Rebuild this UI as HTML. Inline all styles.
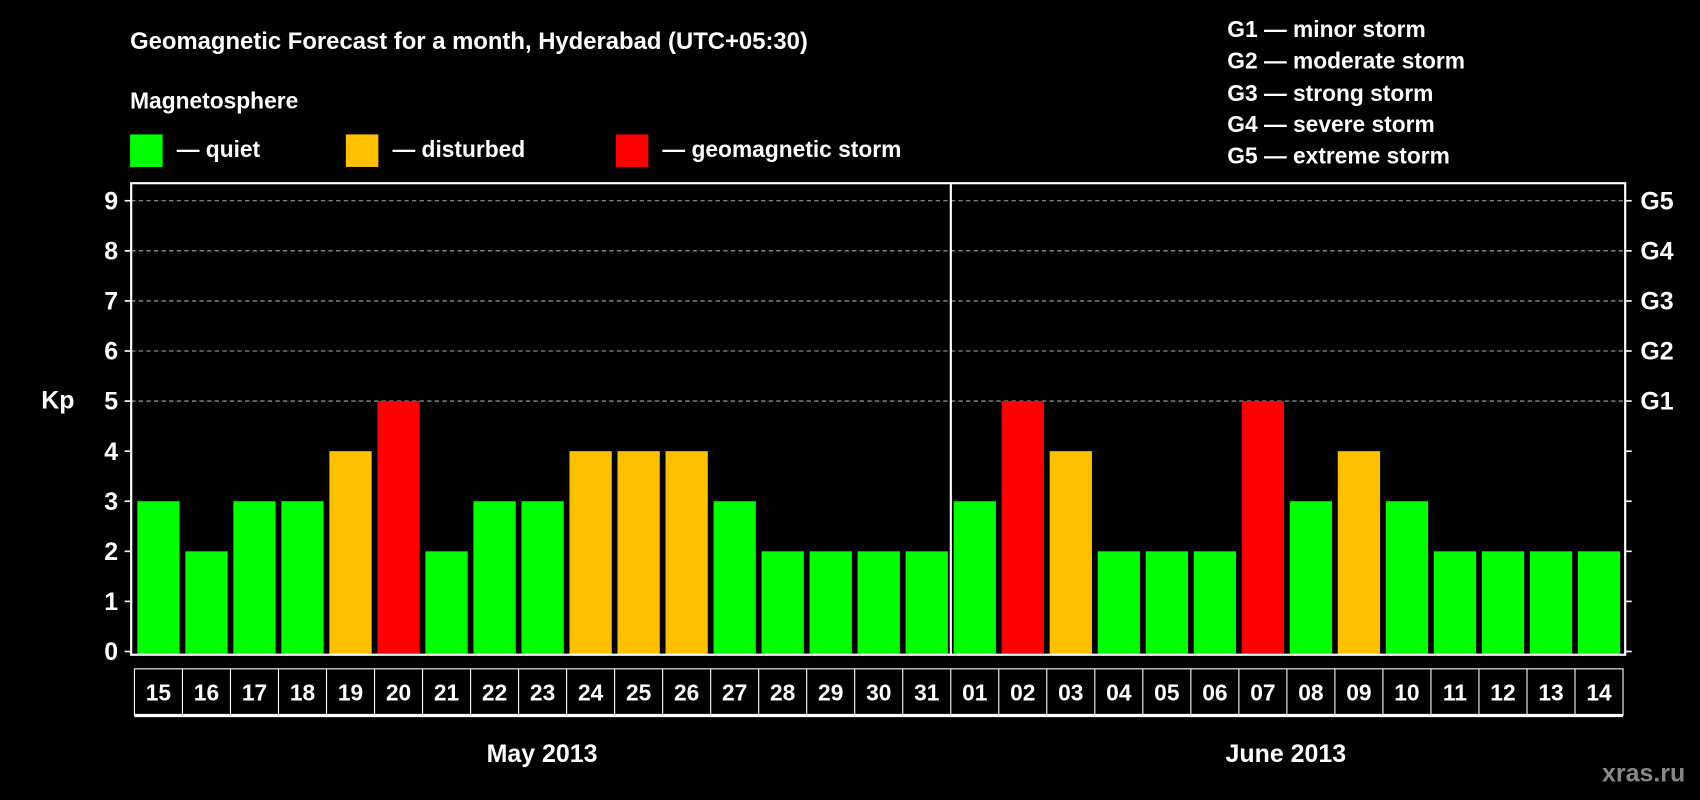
<!DOCTYPE html>
<html><head><meta charset="utf-8"><style>
html,body{margin:0;padding:0;background:#000;}
svg{display:block;font-family:"Liberation Sans",sans-serif;font-weight:bold;}
</style></head><body>
<svg id="chart" width="1700" height="800" viewBox="0 0 1568 738" preserveAspectRatio="none" xmlns="http://www.w3.org/2000/svg">
<rect width="1568" height="738" fill="#000"/>
<text x="120" y="45" fill="#fff" font-size="22">Geomagnetic Forecast for a month, Hyderabad (UTC+05:30)</text>
<text x="120" y="100" fill="#fff" font-size="21">Magnetosphere</text>
<g><rect x="120" y="124" width="30" height="30" fill="#00ff00"/><text x="163" y="145" fill="#fff" font-size="21">— quiet</text></g>
<g><rect x="319" y="124" width="30" height="30" fill="#ffc000"/><text x="362" y="145" fill="#fff" font-size="21">— disturbed</text></g>
<g><rect x="568" y="124" width="30" height="30" fill="#ff0000"/><text x="611" y="145" fill="#fff" font-size="21">— geomagnetic storm</text></g>
<g fill="#fff" font-size="21">
<text x="1132" y="34">G1 — minor storm</text>
<text x="1132" y="63">G2 — moderate storm</text>
<text x="1132" y="93">G3 — strong storm</text>
<text x="1132" y="122">G4 — severe storm</text>
<text x="1132" y="151">G5 — extreme storm</text>
</g>
<text x="38" y="377" fill="#fff" font-size="23">Kp</text>
<g id="grid"></g>
<g id="bars"></g>
<g id="frame"></g>
<g id="days"></g>
<text x="500" y="703" fill="#fff" font-size="23" text-anchor="middle">May 2013</text>
<text x="1186" y="703" fill="#fff" font-size="23" text-anchor="middle">June 2013</text>
<text x="1516" y="721" fill="#888" font-size="23" text-anchor="middle">xras.ru</text>
</svg>
<script>
const days = ["15","16","17","18","19","20","21","22","23","24","25","26","27","28","29","30","31","01","02","03","04","05","06","07","08","09","10","11","12","13","14"];
const kp = [3,2,3,3,4,5,2,3,3,4,4,4,3,2,2,2,2,3,5,4,2,2,2,5,3,4,3,2,2,2,2];
const yTicks = [0,1,2,3,4,5,6,7,8,9];
const gLabels = ["G1","G2","G3","G4","G5"];
const gLevels = [5,6,7,8,9];
const NS="http://www.w3.org/2000/svg";
const L=121,R=1499,T=169,B=604,x0=124,x1=1497;
const cw=(x1-x0)/days.length;
const y=v=>601-v*46.2;
const xc=i=>x0+cw*(i+0.5);
function mk(t,a,p){const e=document.createElementNS(NS,t);for(const k in a)e.setAttribute(k,a[k]);p.appendChild(e);return e;}
const grid=document.getElementById('grid'),bars=document.getElementById('bars'),frame=document.getElementById('frame'),dg=document.getElementById('days');
yTicks.forEach(v=>{
  if(v>=5){const l=mk('line',{x1:L,x2:R,y1:y(v),y2:y(v),stroke:'#aaa','stroke-width':1,'stroke-dasharray':'4,3'},grid);
  
  }
  const tl=mk('line',{x1:L-6,x2:L,y1:y(v),y2:y(v),stroke:'#fff','stroke-width':1.5},frame);
  
  
  const tr=mk('line',{x1:R,x2:R+6,y1:y(v),y2:y(v),stroke:'#fff','stroke-width':1.5},frame);
  
  
  const t=mk('text',{x:L-12,y:y(v)+8,fill:'#fff','font-size':23,'text-anchor':'end'},frame);
  t.textContent=v;
  
  
});
gLevels.forEach((v,i)=>{
  const t=mk('text',{x:R+14,y:y(v)+8,fill:'#fff','font-size':23},frame);
  t.textContent=gLabels[i];
  
  
});
kp.forEach((v,i)=>{
  const c=v>=5?'#ff0000':(v==4?'#ffc000':'#00ff00');
  const r=mk('rect',{x:xc(i)-19.5,y:y(v),width:39,height:B-y(v),fill:c},bars);
  
  
});
const fr=mk('rect',{x:L,y:T,width:R-L,height:B-T,fill:'none',stroke:'#fff','stroke-width':2},frame);


const dv=mk('line',{x1:877,x2:877,y1:T,y2:B,stroke:'#fff','stroke-width':2},frame);


const box=mk('rect',{x:x0,y:617,width:x1-x0,height:43,fill:'none',stroke:'#fff','stroke-width':1},dg);


mk('line',{x1:x0,x2:x1,y1:660,y2:660,stroke:'#fff','stroke-width':3},dg);
days.forEach((d,i)=>{
  if(i>0){mk('line',{x1:x0+cw*i,x2:x0+cw*i,y1:617,y2:660,stroke:'#fff','stroke-width':1},dg);}
  const t=mk('text',{x:xc(i),y:646,fill:'#fff','font-size':21,'text-anchor':'middle'},dg);
  t.textContent=d;
  
  
});
</script>
</body></html>
